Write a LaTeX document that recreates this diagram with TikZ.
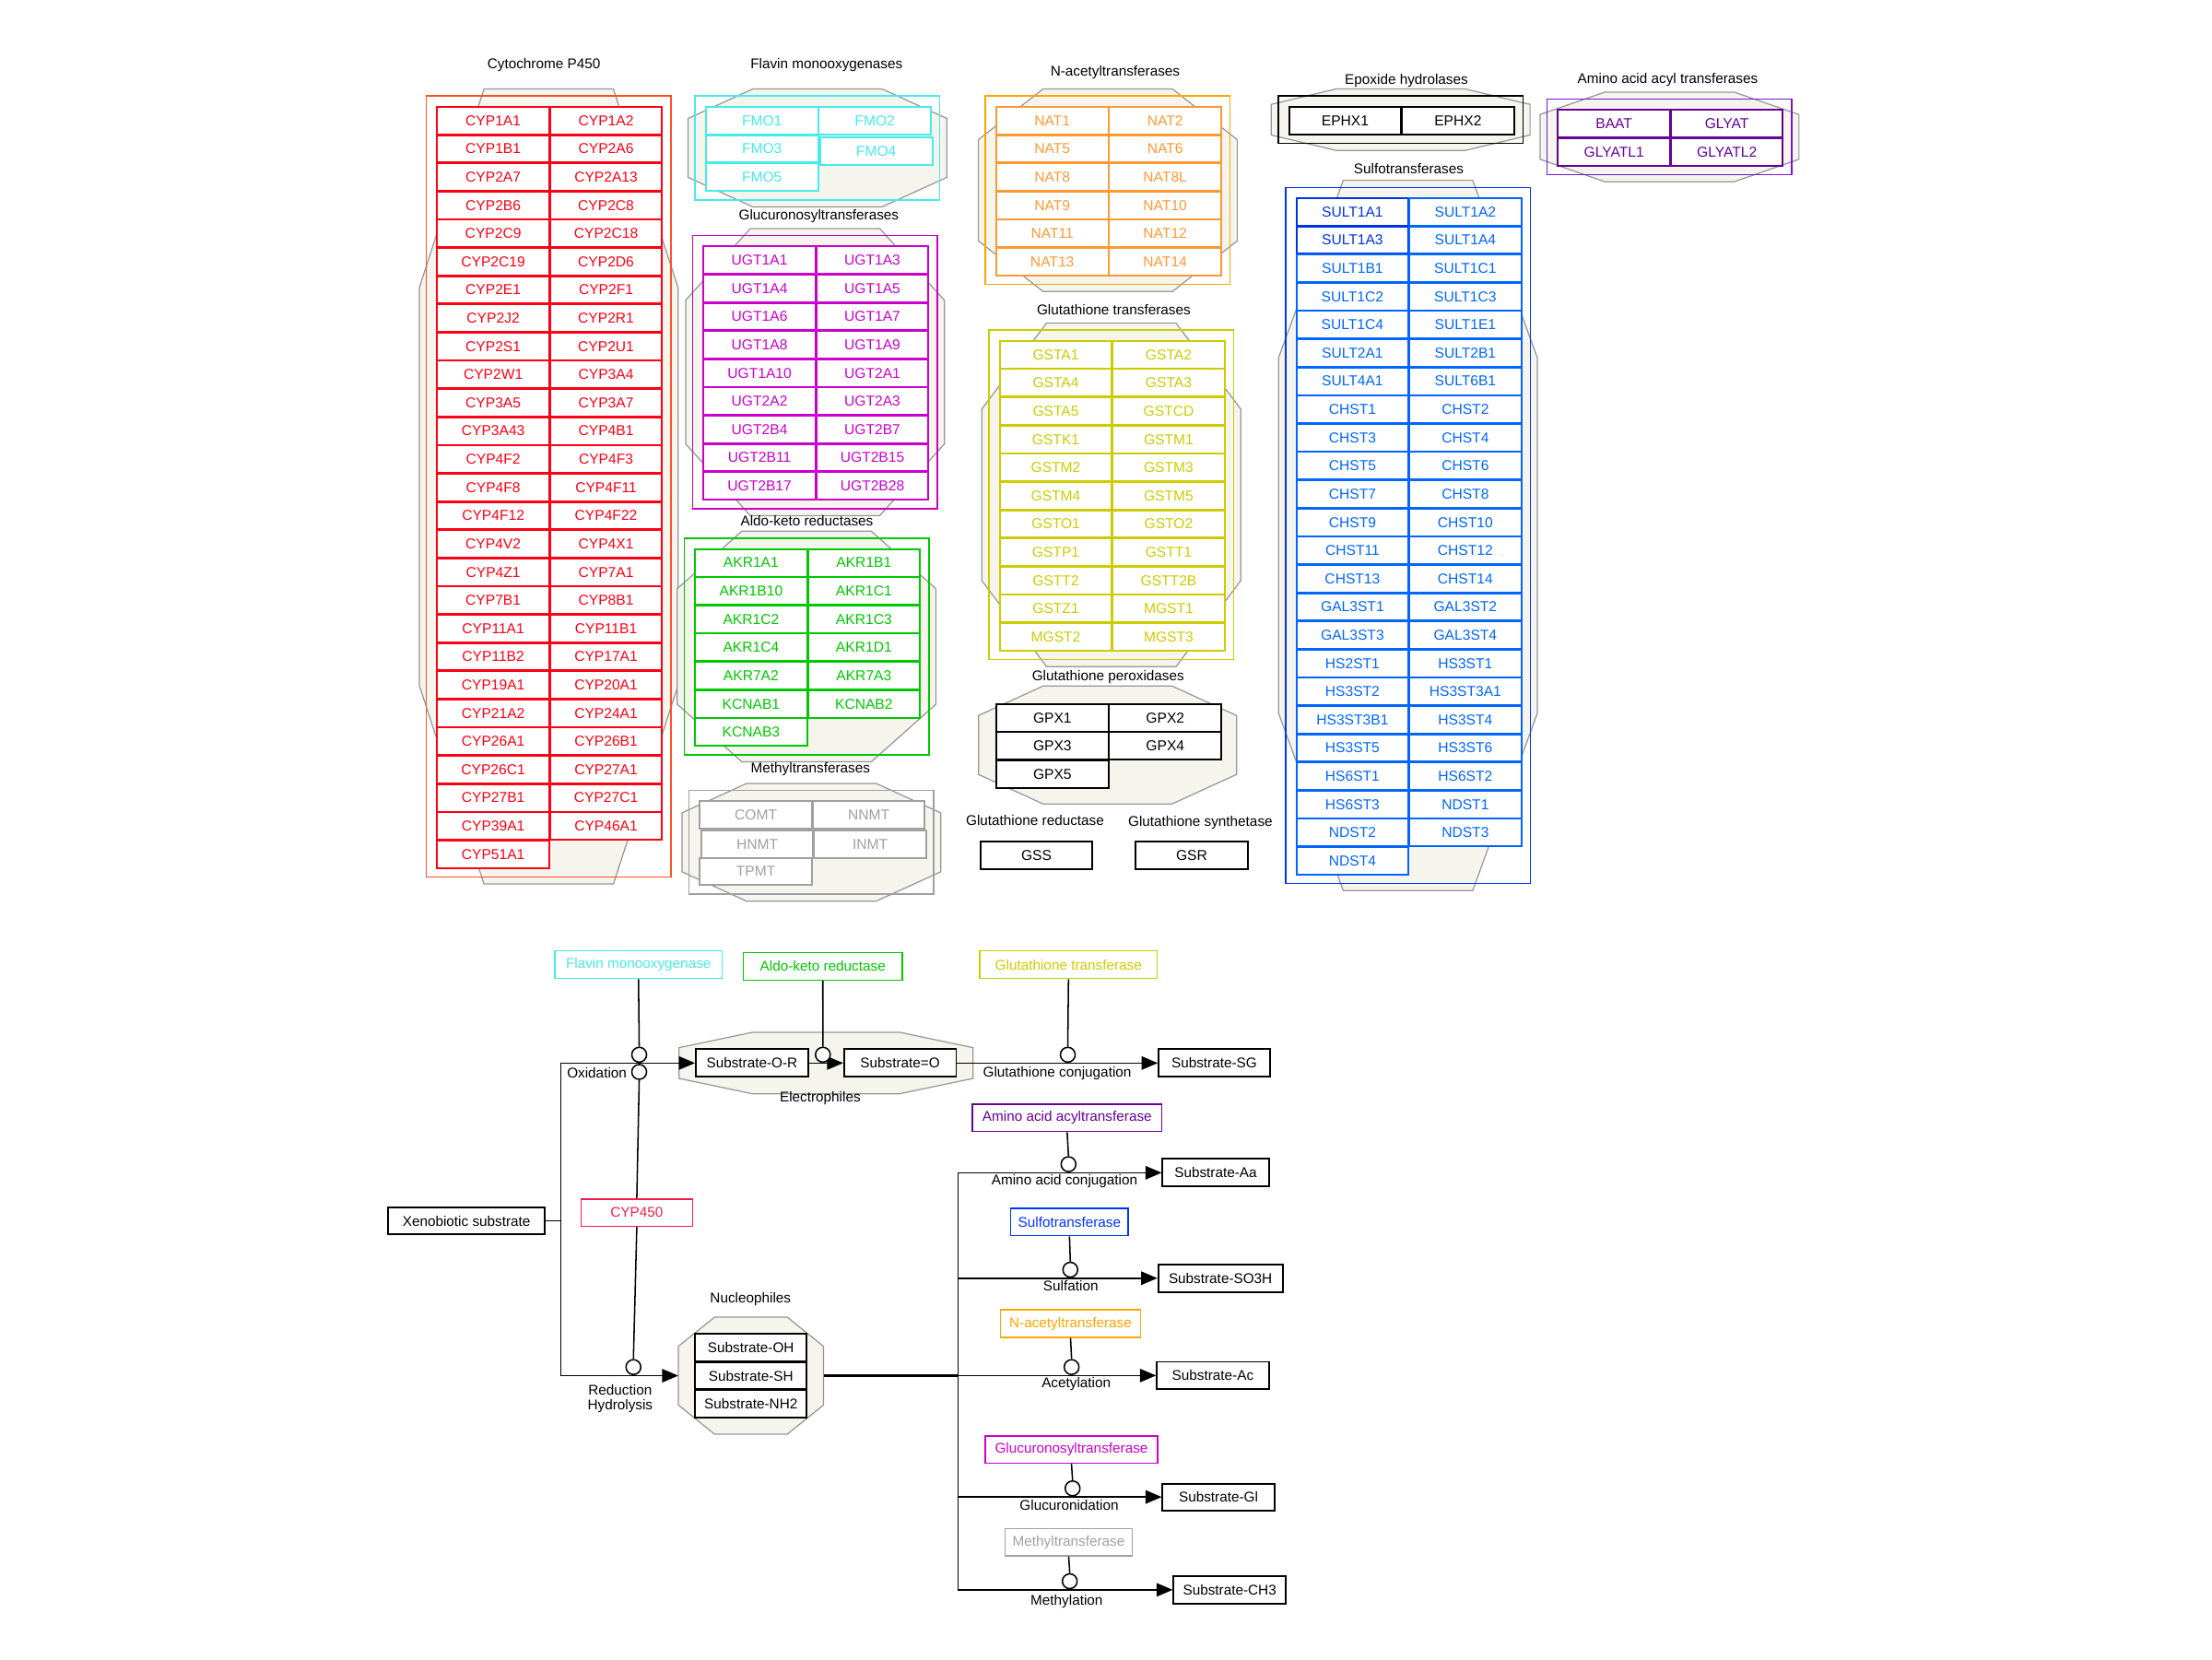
\documentclass[tikz,border=0pt]{standalone}
\usepackage{fontspec}
\setmainfont{Liberation Sans}
\usetikzlibrary{arrows.meta}
\definecolor{cypc}{RGB}{255,0,20}
\definecolor{cypr}{RGB}{255,80,40}
\definecolor{cype}{RGB}{240,30,80}
\definecolor{fmoc}{RGB}{70,235,235}
\definecolor{ugtc}{RGB}{204,0,204}
\definecolor{akrc}{RGB}{0,200,0}
\definecolor{mtc}{RGB}{160,160,160}
\definecolor{natc}{RGB}{255,153,51}
\definecolor{natr}{RGB}{255,165,0}
\definecolor{gstc}{RGB}{204,204,0}
\definecolor{aatc}{RGB}{102,0,153}
\definecolor{aatr}{RGB}{120,20,210}
\definecolor{sultc}{RGB}{0,102,255}
\definecolor{sultd}{RGB}{0,51,230}
\definecolor{sultr}{RGB}{0,51,255}
\definecolor{octfill}{RGB}{245,245,238}
\definecolor{octline}{RGB}{150,150,150}

\newcommand{\cellcol}[5]{\foreach \lbl [count=\i] in {#5}{\node[cellbox,#4,anchor=north west] (#1\i) at ({#2},{#3+20*(\i-1)}) {\lbl};}}
\newcommand{\octo}[4]{%
 \pgfmathsetmacro\oxa{#1}\pgfmathsetmacro\oya{#2}\pgfmathsetmacro\oxb{#3}\pgfmathsetmacro\oyb{#4}%
 \pgfmathsetmacro\ocx{0.25*(\oxb-\oxa)}\pgfmathsetmacro\ocy{0.25*(\oyb-\oya)}%
 \draw[octa] ({\oxa+\ocx},\oya) -- ({\oxb-\ocx},\oya) -- (\oxb,{\oya+\ocy}) -- (\oxb,{\oyb-\ocy}) -- ({\oxb-\ocx},\oyb) -- ({\oxa+\ocx},\oyb) -- (\oxa,{\oyb-\ocy}) -- (\oxa,{\oya+\ocy}) -- cycle;}
\newcommand{\grp}[4]{%
 \pgfmathsetmacro\gxa{#1}\pgfmathsetmacro\gya{#2}%
 \pgfmathsetmacro\gxb{#1+159.5}\pgfmathsetmacro\gyb{#2+20*#3-0.5}%
 \octo{\gxa-12}{\gya-12}{\gxb+12}{\gyb+12}%
 \draw[grect,draw=#4] ({\gxa-7},{\gya-7}) rectangle ({\gxb+7},{\gyb+7});}

\begin{document}
\begin{tikzpicture}[x=1pt,y=-1pt,font=\fontsize{10}{12}\selectfont,
  cellbox/.style={draw,fill=white,line width=1.3pt,minimum width=79.5pt,minimum height=19.5pt,inner sep=0pt,font=\fontsize{10.2}{12}\selectfont},
  ttl/.style={inner sep=0pt,font=\fontsize{10}{12}\selectfont},
  octa/.style={fill=octfill,draw=octline,line width=0.8pt},
  grect/.style={line width=1pt},
  cyp/.style={draw=cypc,text=cypc},
  fmo/.style={draw=fmoc,text=fmoc},
  ugt/.style={draw=ugtc,text=ugtc},
  akr/.style={draw=akrc,text=akrc},
  mt/.style={draw=mtc,text=mtc},
  nat/.style={draw=natc,text=natc},
  gst/.style={draw=gstc,text=gstc},
  blk/.style={draw=black,text=black},
  aat/.style={draw=aatc,text=aatc},
  sult/.style={draw=sultc,text=sultc},
  sultk/.style={draw=sultd,text=sultd},
  ebox/.style={draw,fill=white,line width=1pt,inner sep=0pt},
  sbox/.style={draw=black,fill=white,line width=1.2pt,inner sep=0pt},
  cat/.style={circle,draw,fill=white,line width=1pt,minimum size=10.5pt,inner sep=0pt},
  conn/.style={line width=1pt},
  arr/.style={line width=1pt,-{Triangle[length=11.5pt,width=9.5pt]}},
  lbl/.style={inner sep=0pt,font=\fontsize{10}{12}\selectfont}]
\useasboundingbox (0,0) rectangle (1568,1176);

% ---------------- Cytochrome P450
\node[ttl] (tcyp) at (385.5,46.4) {Cytochrome P450};
\grp{309.2}{75.1}{27}{cypr}
\cellcol{cypL}{309.2}{75.1}{cyp}{CYP1A1,CYP1B1,CYP2A7,CYP2B6,CYP2C9,CYP2C19,CYP2E1,CYP2J2,CYP2S1,CYP2W1,CYP3A5,CYP3A43,CYP4F2,CYP4F8,CYP4F12,CYP4V2,CYP4Z1,CYP7B1,CYP11A1,CYP11B2,CYP19A1,CYP21A2,CYP26A1,CYP26C1,CYP27B1,CYP39A1,CYP51A1}
\cellcol{cypR}{389.2}{75.1}{cyp}{CYP1A2,CYP2A6,CYP2A13,CYP2C8,CYP2C18,CYP2D6,CYP2F1,CYP2R1,CYP2U1,CYP3A4,CYP3A7,CYP4B1,CYP4F3,CYP4F11,CYP4F22,CYP4X1,CYP7A1,CYP8B1,CYP11B1,CYP17A1,CYP20A1,CYP24A1,CYP26B1,CYP27A1,CYP27C1,CYP46A1}

% ---------------- Flavin monooxygenases
\node[ttl] (tfmo) at (585.9,46.4) {Flavin monooxygenases};
\grp{499.7}{75.1}{3}{fmoc}
\node[cellbox,fmo,anchor=north west] (fmo1) at (499.7,75.1) {FMO1};
\node[cellbox,fmo,anchor=north west] (fmo2) at (579.7,75.1) {FMO2};
\node[cellbox,fmo,anchor=north west] (fmo3) at (499.7,95.1) {FMO3};
\node[cellbox,fmo,anchor=north west] (fmo4) at (580.7,96.6) {FMO4};
\node[cellbox,fmo,anchor=north west] (fmo5) at (499.7,115.1) {FMO5};

% ---------------- Glucuronosyltransferases
\node[ttl] (tugt) at (580.4,153.5) {Glucuronosyltransferases};
\grp{498}{174}{9}{ugtc}
\cellcol{ugtL}{498}{174}{ugt}{UGT1A1,UGT1A4,UGT1A6,UGT1A8,UGT1A10,UGT2A2,UGT2B4,UGT2B11,UGT2B17}
\cellcol{ugtR}{578}{174}{ugt}{UGT1A3,UGT1A5,UGT1A7,UGT1A9,UGT2A1,UGT2A3,UGT2B7,UGT2B15,UGT2B28}

% ---------------- Aldo-keto reductases
\node[ttl] (takr) at (572,369) {Aldo-keto reductases};
\grp{492}{388.5}{7}{akrc}
\cellcol{akrL}{492}{388.5}{akr}{AKR1A1,AKR1B10,AKR1C2,AKR1C4,AKR7A2,KCNAB1,KCNAB3}
\cellcol{akrR}{572}{388.5}{akr}{AKR1B1,AKR1C1,AKR1C3,AKR1D1,AKR7A3,KCNAB2}

% ---------------- Methyltransferases
\node[ttl] (tmt) at (574.5,545.1) {Methyltransferases};
\grp{495.4}{567.3}{3}{mtc}
\node[cellbox,mt,anchor=north west] (mt1) at (495.4,567.3) {COMT};
\node[cellbox,mt,anchor=north west] (mt2) at (575.4,567.3) {NNMT};
\node[cellbox,mt,anchor=north west] (mt3) at (496.4,588.3) {HNMT};
\node[cellbox,mt,anchor=north west] (mt4) at (576.4,588.3) {INMT};
\node[cellbox,mt,anchor=north west] (mt5) at (495.4,607.3) {TPMT};

% ---------------- N-acetyltransferases
\node[ttl] (tnat) at (790.5,51.6) {N-acetyltransferases};
\grp{705.5}{75.1}{6}{natr}
\cellcol{natL}{705.5}{75.1}{nat}{NAT1,NAT5,NAT8,NAT9,NAT11,NAT13}
\cellcol{natR}{785.5}{75.1}{nat}{NAT2,NAT6,NAT8L,NAT10,NAT12,NAT14}

% ---------------- Glutathione transferases
\node[ttl] (tgst) at (789.5,219.5) {Glutathione transferases};
\grp{708}{241}{11}{gstc}
\cellcol{gstL}{708}{241}{gst}{GSTA1,GSTA4,GSTA5,GSTK1,GSTM2,GSTM4,GSTO1,GSTP1,GSTT2,GSTZ1,MGST2}
\cellcol{gstR}{788}{241}{gst}{GSTA2,GSTA3,GSTCD,GSTM1,GSTM3,GSTM5,GSTO2,GSTT1,GSTT2B,MGST1,MGST3}

% ---------------- Glutathione peroxidases
\node[ttl] (tgpx) at (785.5,480.2) {Glutathione peroxidases};
\octo{693.6}{486.3}{876.6}{569.8}
\cellcol{gpxL}{705.6}{498.3}{blk}{GPX1,GPX3,GPX5}
\cellcol{gpxR}{785.6}{498.3}{blk}{GPX2,GPX4}

% ---------------- Glutathione reductase / synthetase
\node[ttl] (tgsr) at (733.7,581.5) {Glutathione reductase};
\node[ttl] (tgss) at (850.9,583) {Glutathione synthetase};
\node[cellbox,blk,anchor=north west] (gss) at (694.3,596) {GSS};
\node[cellbox,blk,anchor=north west] (gsr) at (804.3,596) {GSR};

% ---------------- Epoxide hydrolases
\node[ttl] (teph) at (997,57.3) {Epoxide hydrolases};
\grp{913.1}{75.1}{1}{black}
\node[cellbox,blk,anchor=north west] (eph1) at (913.1,75.1) {EPHX1};
\node[cellbox,blk,anchor=north west] (eph2) at (993.1,75.1) {EPHX2};

% ---------------- Amino acid acyl transferases
\node[ttl] (taat) at (1182.2,56.6) {Amino acid acyl transferases};
\grp{1103.7}{77.3}{2}{aatr}
\cellcol{aatL}{1103.7}{77.3}{aat}{BAAT,GLYATL1}
\cellcol{aatR}{1183.7}{77.3}{aat}{GLYAT,GLYATL2}

% ---------------- Sulfotransferases
\node[ttl] (tsult) at (998.6,119.3) {Sulfotransferases};
\grp{918.3}{139.8}{24}{sultr}
\cellcol{sultLa}{918.3}{139.8}{sultk}{SULT1A1,SULT1A3}
\cellcol{sultLb}{918.3}{179.8}{sult}{SULT1B1,SULT1C2,SULT1C4,SULT2A1,SULT4A1,CHST1,CHST3,CHST5,CHST7,CHST9,CHST11,CHST13,GAL3ST1,GAL3ST3,HS2ST1,HS3ST2,HS3ST3B1,HS3ST5,HS6ST1,HS6ST3,NDST2,NDST4}
\cellcol{sultR}{998.3}{139.8}{sult}{SULT1A2,SULT1A4,SULT1C1,SULT1C3,SULT1E1,SULT2B1,SULT6B1,CHST2,CHST4,CHST6,CHST8,CHST10,CHST12,CHST14,GAL3ST2,GAL3ST4,HS3ST1,HS3ST3A1,HS3ST4,HS3ST6,HS6ST2,NDST1,NDST3}

% ================= Pathway =================
\octo{481.3}{731.7}{689.8}{775.3}
\octo{480.8}{933.6}{583.8}{1016.6}
\node[lbl] (telec) at (581.4,778.5) {Electrophiles};
\node[lbl] (tnuc) at (532,921.2) {Nucleophiles};

% substrate boxes
\node[sbox,minimum width=111.2pt,minimum height=19.1pt] (xeno) at (330.7,865.45) {Xenobiotic substrate};
\node[sbox,minimum width=79.5pt,minimum height=19.6pt] (sor) at (533.05,753.5) {Substrate-O-R};
\node[sbox,minimum width=79.5pt,minimum height=19.6pt] (so) at (638.05,753.5) {Substrate=O};
\node[sbox,minimum width=78.8pt,minimum height=19.6pt] (ssg) at (860.7,753.5) {Substrate-SG};
\node[sbox,minimum width=79pt,minimum height=19.2pt] (soh) at (532.3,955.15) {Substrate-OH};
\node[sbox,minimum width=79pt,minimum height=19.2pt] (ssh) at (532.3,975.15) {Substrate-SH};
\node[sbox,minimum width=79pt,minimum height=19.2pt] (snh) at (532.3,995.15) {Substrate-NH2};
\node[sbox,minimum width=75.3pt,minimum height=19.6pt] (saa) at (861.75,831.25) {Substrate-Aa};
\node[sbox,minimum width=88.2pt,minimum height=19.4pt] (sso) at (865.1,906) {Substrate-SO3H};
\node[sbox,minimum width=79.3pt,minimum height=19.4pt] (sac) at (859.75,975) {Substrate-Ac};
\node[sbox,minimum width=79.2pt,minimum height=19pt] (sgl) at (863.7,1061.1) {Substrate-Gl};
\node[sbox,minimum width=79.5pt,minimum height=19.4pt] (sch) at (871.65,1126.9) {Substrate-CH3};

% enzyme boxes
\node[ebox,draw=fmoc,text=fmoc,minimum width=118.8pt,minimum height=19.6pt] (efmo) at (452.6,683.8) {Flavin monooxygenase};
\node[ebox,draw=akrc,text=akrc,minimum width=112.5pt,minimum height=19.6pt] (eakr) at (583.25,684.9) {Aldo-keto reductase};
\node[ebox,draw=gstc,text=gstc,minimum width=125.6pt,minimum height=19.6pt] (egst) at (757.4,683.8) {Glutathione transferase};
\node[ebox,draw=cype,text=cype,minimum width=79.2pt,minimum height=19.3pt] (ecyp) at (451.4,859.45) {CYP450};
\node[ebox,draw=aatc,text=aatc,minimum width=134.3pt,minimum height=19.4pt] (eaat) at (756.45,792.3) {Amino acid acyltransferase};
\node[ebox,draw=sultr,text=sultr,minimum width=83.2pt,minimum height=19.4pt] (esult) at (758.1,866.1) {Sulfotransferase};
\node[ebox,draw=natr,text=natr,minimum width=99.1pt,minimum height=19.4pt] (enat) at (758.85,938.2) {N-acetyltransferase};
\node[ebox,draw=ugtc,text=ugtc,minimum width=122.2pt,minimum height=19pt] (eugt) at (759.5,1027.5) {Glucuronosyltransferase};
\node[ebox,draw=mtc,text=mtc,minimum width=89.9pt,minimum height=19.3pt] (emt) at (757.55,1093.05) {Methyltransferase};

% junction coordinates
\coordinate (jt) at (397.7,753.5);
\coordinate (jb) at (397.7,975.1);
\coordinate (nucW) at (480.8,975.1);
\coordinate (nucE) at (583.8,975.1);
\coordinate (trunk) at (679,975.1);

% main lines
\draw[conn] (xeno.east) -- (xeno.east -| jt);
\draw[conn] (jt) -- (jb);
\draw[arr] (jt) -- (sor.west);
\draw[arr] (jb) -- (nucW);
\draw[arr] (sor.east) -- (so.west);
\draw[arr] (so.east) -- (ssg.west);
\draw[line width=1.8pt] (nucE) -- (trunk);
\draw[conn] (trunk |- saa.west) -- (trunk |- sch.west);
\draw[arr] (trunk |- saa.west) -- (saa.west);
\draw[arr] (trunk |- sso.west) -- (sso.west);
\draw[arr] (trunk |- sac.west) -- (sac.west);
\draw[arr] (trunk |- sgl.west) -- (sgl.west);
\draw[arr] (trunk |- sch.west) -- (sch.west);

% catalysis circles
\node[cat] (c1) at (453.1,747.6) {};
\node[cat] (c2) at (453.1,759.8) {};
\node[cat] (c3) at (583.3,747.6) {};
\node[cat] (c4) at (756.9,747.6) {};
\node[cat] (c5) at (449,969) {};
\node[cat] (c6) at (757.4,825.2) {};
\node[cat] (c7) at (758.7,900) {};
\node[cat] (c8) at (759.6,969) {};
\node[cat] (c9) at (760.3,1055) {};
\node[cat] (c10) at (758.3,1120.8) {};

\draw[conn] (efmo.south) -- (c1.north);
\draw[conn] (eakr.south) -- (c3.north);
\draw[conn] (egst.south) -- (c4.north);
\draw[conn] (ecyp.north) -- (c2.south);
\draw[conn] (ecyp.south) -- (c5.north);
\draw[conn] (eaat.south) -- (c6.north);
\draw[conn] (esult.south) -- (c7.north);
\draw[conn] (enat.south) -- (c8.north);
\draw[conn] (eugt.south) -- (c9.north);
\draw[conn] (emt.south) -- (c10.north);

% reaction labels
\node[lbl] (lox) at (423.1,760.7) {Oxidation};
\node[lbl,align=center,font=\fontsize{10}{10.5}\selectfont] (lred) at (439.6,991.3) {Reduction\\Hydrolysis};
\node[lbl] (lgc) at (749.4,760.7) {Glutathione conjugation};
\node[lbl] (laa) at (754.6,837) {Amino acid conjugation};
\node[lbl] (lsul) at (759,911.6) {Sulfation};
\node[lbl] (lac) at (762.9,981) {Acetylation};
\node[lbl] (lgl) at (757.9,1066.7) {Glucuronidation};
\node[lbl] (lme) at (756.1,1135.1) {Methylation};
\end{tikzpicture}
\end{document}
